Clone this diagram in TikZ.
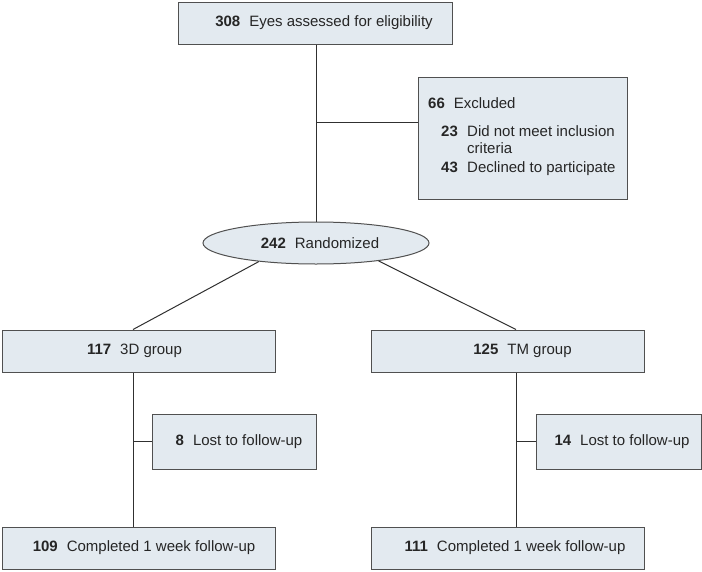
\documentclass[tikz,border=0pt]{standalone}
\usepackage{fontspec}
\setmainfont{Liberation Sans}
\usetikzlibrary{shapes.geometric}
\definecolor{boxfill}{HTML}{E3EAF0}
\definecolor{boxline}{HTML}{505050}
\definecolor{conline}{HTML}{303030}
\tikzset{
  txt/.style={font=\fontsize{15}{18}\selectfont, text=black!85},
  box/.style={txt, draw=boxline, fill=boxfill, line width=1pt, rectangle, inner sep=0pt},
  oval/.style={txt, draw=boxline, fill=boxfill, line width=1pt, ellipse, inner sep=0pt},
  con/.style={draw=conline, line width=1pt},
  lbl/.style={txt, inner sep=0pt, anchor=base west}
}
\newcommand{\gap}{\hspace{0.6em}}
\begin{document}
\begin{tikzpicture}[x=1pt,y=-1pt]
\useasboundingbox (0,0) rectangle (702,571);

\node[box, minimum width=274pt, minimum height=42pt] (top) at (315,23)
  {\hspace*{18pt}\textbf{308}\gap Eyes assessed for eligibility};
\node[box, minimum width=209pt, minimum height=122pt] (ex) at (522.5,138) {};
\node[lbl] (ex0) at (428,108.5) {\textbf{66}\gap Excluded};
\node[lbl] (ex1n) at (441,136) {\textbf{23}};
\node[lbl] (ex1t) at (467,136) {Did not meet inclusion};
\node[lbl] (ex1u) at (467,153.5) {criteria};
\node[lbl] (ex2n) at (441,172.5) {\textbf{43}};
\node[lbl] (ex2t) at (467,172.5) {Declined to participate};

\node[oval, minimum width=226pt, minimum height=42pt] (rand) at (316,243)
  {\hspace*{8pt}\textbf{242}\gap Randomized};

\node[box, minimum width=273pt, minimum height=42pt] (g1) at (138.5,351)
  {\hspace*{-8pt}\textbf{117}\gap 3D group};
\node[box, minimum width=273pt, minimum height=42pt] (g2) at (507.5,351)
  {\hspace*{30pt}\textbf{125}\gap TM group};

\node[box, minimum width=164pt, minimum height=55pt] (l1) at (234,441.5)
  {\hspace*{10pt}\textbf{8}\gap Lost to follow-up};
\node[box, minimum width=165pt, minimum height=55pt] (l2) at (618.5,441.5)
  {\hspace*{7pt}\textbf{14}\gap Lost to follow-up};

\node[box, minimum width=273pt, minimum height=42pt] (c1) at (138.5,548)
  {\hspace*{11pt}\textbf{109}\gap Completed 1 week follow-up};
\node[box, minimum width=273pt, minimum height=42pt] (c2) at (507.5,548)
  {\hspace*{15pt}\textbf{111}\gap Completed 1 week follow-up};

\coordinate (vt) at (316,0);
\coordinate (vl) at (133,0);
\coordinate (vr) at (516,0);
\coordinate (br) at (316,122);

\draw[con] (top.south -| vt) -- (rand.north -| vt);
\draw[con] (br) -- (br -| ex.west);
\draw[con] (rand.198) -- (g1.north -| vl);
\draw[con] (rand.-16) -- (g2.north -| vr);
\draw[con] (g1.south -| vl) -- (c1.north -| vl);
\draw[con] (g2.south -| vr) -- (c2.north -| vr);
\draw[con] (l1.west -| vl) -- (l1.west);
\draw[con] (l2.west -| vr) -- (l2.west);
\end{tikzpicture}
\end{document}
